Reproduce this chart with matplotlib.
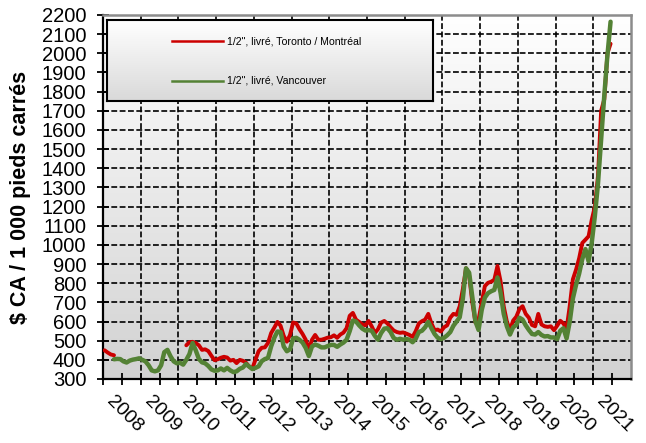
import numpy as np
import matplotlib

matplotlib.use("Agg")
import matplotlib.pyplot as plt
from matplotlib.colors import LinearSegmentedColormap

plt.rcParams["font.family"] = ["Liberation Sans", "DejaVu Sans"]

nan = np.nan

# prix mensuels, janv. 2008 -> juin 2021
red_toronto = [
    450, 438, 428, 424, nan, nan, nan, nan, nan, nan, nan, nan,          # 2008
    nan, nan, nan, nan, nan, nan, nan, nan, nan, nan, nan, nan,          # 2009
    nan, nan, 476, 492, 494, 488, 476, 452, 455, 446, 421, 398,          # 2010
    403, 411, 416, 412, 396, 400, 383, 400, 395, 385, 365, 355,          # 2011
    400, 445, 463, 465, 488, 540, 568, 598, 578, 525, 495, 530,          # 2012
    595, 590, 560, 535, 505, 455, 505, 530, 505, 505, 510, 516,          # 2013
    518, 528, 515, 532, 542, 565, 630, 645, 610, 598, 585, 580,          # 2014
    603, 575, 540, 560, 595, 603, 590, 570, 553, 545, 541, 543,          # 2015
    537, 530, 520, 550, 590, 602, 610, 640, 590, 555, 558, 548,          # 2016
    570, 580, 620, 640, 635, 680, 770, 878, 840, 700, 595, 610,          # 2017
    700, 785, 802, 808, 818, 890, 810, 680, 600, 555, 605, 625,          # 2018
    665, 680, 640, 620, 582, 575, 640, 585, 575, 572, 575, 555,          # 2019
    578, 604, 590, 562, 680, 820, 870, 930, 1010, 1027, 1045, 1130,      # 2020
    1200, 1360, 1700, 1760, 2000, 2050,                                  # 2021
]
green_vancouver = [
    nan, nan, nan, 403, 405, 404, 392, 386, 396, 401, 404, 408,          # 2008
    400, 392, 372, 345, 340, 345, 372, 440, 452, 418, 392, 382,          # 2009
    385, 375, 400, 430, 488, 450, 405, 387, 382, 368, 350, 343,          # 2010
    345, 355, 345, 358, 345, 336, 340, 353, 360, 378, 365, 352,          # 2011
    358, 366, 393, 404, 410, 470, 515, 548, 545, 470, 445, 455,          # 2012
    512, 515, 505, 490, 462, 420, 470, 480, 474, 465, 465, 472,          # 2013
    478, 478, 468, 480, 490, 505, 550, 605, 600, 580, 563, 553,          # 2014
    555, 552, 525, 505, 540, 563, 565, 545, 514, 505, 510, 505,          # 2015
    509, 505, 492, 510, 545, 552, 570, 598, 565, 535, 515, 508,          # 2016
    515, 528, 545, 578, 600, 622, 720, 878, 855, 730, 600, 556,          # 2017
    660, 725, 748, 758, 765, 830, 750, 640, 575, 532, 570, 582,          # 2018
    620, 610, 580, 556, 535, 532, 545, 530, 522, 524, 517, 517,          # 2019
    508, 552, 565, 512, 598, 720, 790, 850, 926, 978, 915, 1010,         # 2020
    1150, 1320, 1550, 1780, 1990, 2165,                                  # 2021
]
years = list(range(2008, 2022))
legend_labels = ['1/2", livré, Toronto / Montréal', '1/2", livré, Vancouver']

RED = "#cc0000"
GREEN = "#548235"

months = 2008 + (np.arange(len(red_toronto)) + 0.5) / 12

fig = plt.figure(figsize=(6.46, 4.43), dpi=100)
ax = fig.add_axes([103 / 646, 1 - 379 / 443, (631 - 103) / 646, (379 - 15) / 443])

# fond en dégradé
bg = LinearSegmentedColormap.from_list("bg", ["#d2d2d2", "#ffffff"])
ax.imshow(np.linspace(0, 1, 256).reshape(-1, 1), cmap=bg, origin="lower",
          extent=[0, 1, 0, 1], transform=ax.transAxes, aspect="auto", zorder=0)

ax.plot(months, red_toronto, color=RED, lw=2.8, zorder=3, solid_capstyle="round")
ax.plot(months, green_vancouver, color=GREEN, lw=3.2, zorder=4, solid_capstyle="round")

ax.set_xlim(2008, 2022)
ax.set_ylim(300, 2200)
ax.set_yticks(np.arange(300, 2201, 100))
ax.set_xticks(years)
ax.set_xticks(np.arange(2008.5, 2022, 1), minor=True)
ax.set_xticklabels([str(y) for y in years], rotation=-45, ha="left", va="top",
                   fontsize=14)
ax.tick_params(axis="y", direction="inout", length=8, width=1.3, labelsize=14.5, pad=8)
ax.tick_params(axis="x", which="both", direction="inout", length=8, width=1.3, pad=6)

ax.grid(True, which="major", color="black", lw=1.2, ls=(0, (3.5, 1.5)), zorder=1)
for gl in ax.get_xgridlines() + ax.get_ygridlines():
    gl.set_zorder(1)

for side in ("left", "bottom"):
    ax.spines[side].set_linewidth(1.6)
    ax.spines[side].set_color("black")
for side in ("top", "right"):
    ax.spines[side].set_linewidth(1.8)
    ax.spines[side].set_color("#8c8c8c")

fig.text(21 / 646, 1 - 197 / 443, "$ CA / 1 000 pieds carrés", rotation=90,
         fontsize=15.5, fontweight="bold", ha="center", va="center")

# légende dessinée dans un petit cadre en dégradé
lg = fig.add_axes([107 / 646, 1 - 101 / 443, (433 - 107) / 646, (101 - 20) / 443], zorder=5)
lg_bg = LinearSegmentedColormap.from_list("lg", ["#d9d9d9", "#ffffff"])
lg.imshow(np.linspace(0, 1, 256).reshape(-1, 1), cmap=lg_bg, origin="lower",
          extent=[0, 1, 0, 1], aspect="auto")
lg.set_xlim(0, 1)
lg.set_ylim(0, 1)
lg.set_xticks([])
lg.set_yticks([])
for s in lg.spines.values():
    s.set_linewidth(1.5)
    s.set_color("black")
for yy, col, lab in ((0.74, RED, legend_labels[0]), (0.25, GREEN, legend_labels[1])):
    lg.plot([0.2, 0.355], [yy, yy], color=col, lw=1.8)
    lg.text(0.368, yy, lab, fontsize=7.6, va="center", ha="left")

fig.savefig("out.png", dpi=100)
